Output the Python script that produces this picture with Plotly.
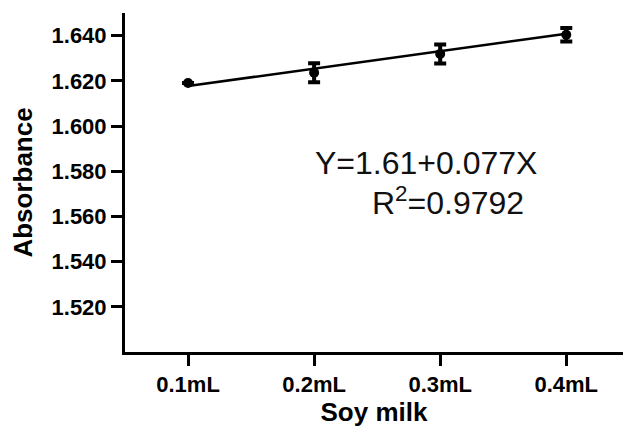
import numpy as np
import plotly.graph_objects as go

# Soy milk volume (mL) and mean absorbance with SD
volume_ml = [0.1, 0.2, 0.3, 0.4]
volume_labels = ["0.1mL", "0.2mL", "0.3mL", "0.4mL"]
absorbance = [1.619, 1.6236, 1.6319, 1.6404]
absorbance_sd = [0.0, 0.0042, 0.0042, 0.0030]

# Linear fit reported on the chart
intercept = 1.61
slope = 0.077
r_squared = 0.9792

y_ticks = [1.520, 1.540, 1.560, 1.580, 1.600, 1.620, 1.640]

fit_x = np.array([volume_ml[0], volume_ml[-1]])
fit_y = intercept + slope * fit_x

fig = go.Figure()

fig.add_trace(go.Scatter(
    x=fit_x, y=fit_y, mode="lines",
    line=dict(color="black", width=2.5),
    showlegend=False, hoverinfo="skip",
))

fig.add_trace(go.Scatter(
    x=volume_ml, y=absorbance, mode="markers",
    marker=dict(color="black", size=10, symbol="circle"),
    error_y=dict(type="data", array=absorbance_sd, visible=True,
                 color="black", thickness=4, width=6),
    showlegend=False,
))

tick_font = dict(family="Liberation Sans, Arial, sans-serif", size=22, color="black")
title_font = dict(family="Liberation Sans, Arial, sans-serif", size=26, color="black")

fig.update_layout(
    width=623, height=430,
    margin=dict(l=125, r=0, t=13, b=78),
    plot_bgcolor="white", paper_bgcolor="white",
    font=dict(family="Liberation Sans, Arial, sans-serif"),
    xaxis=dict(
        range=[0.05, 0.445],
        tickvals=volume_ml, ticktext=["<b>%s</b>" % t for t in volume_labels],
        ticks="outside", ticklen=11, tickwidth=3, tickcolor="black",
        showline=True, linewidth=3, linecolor="black",
        showgrid=False, zeroline=False,
        tickfont=tick_font,
        title=dict(text="<b>Soy milk</b>", font=title_font, standoff=5),
    ),
    yaxis=dict(
        range=[1.500, 1.650],
        tickvals=y_ticks,
        ticktext=["<b>%.3f</b>" % v for v in y_ticks],
        ticks="outside", ticklen=11, tickwidth=3, tickcolor="black",
        showline=True, linewidth=3, linecolor="black",
        showgrid=False, zeroline=False,
        tickfont=tick_font,
        title=dict(text="<b>Absorbance</b>", font=title_font, standoff=12),
    ),
)

eq_font = dict(family="Liberation Sans, Arial, sans-serif", size=32, color="#111111")
fig.add_annotation(
    x=0.2887, y=1.5838, xref="x", yref="y",
    text="Y=%.2f+%.3fX" % (intercept, slope),
    showarrow=False, font=eq_font, xanchor="center", yanchor="middle",
)
fig.add_annotation(
    x=0.3058, y=1.5668, xref="x", yref="y",
    text="R<sup>2</sup>=%.4f" % r_squared,
    showarrow=False, font=eq_font, xanchor="center", yanchor="middle",
)

fig.write_html("out.html")
